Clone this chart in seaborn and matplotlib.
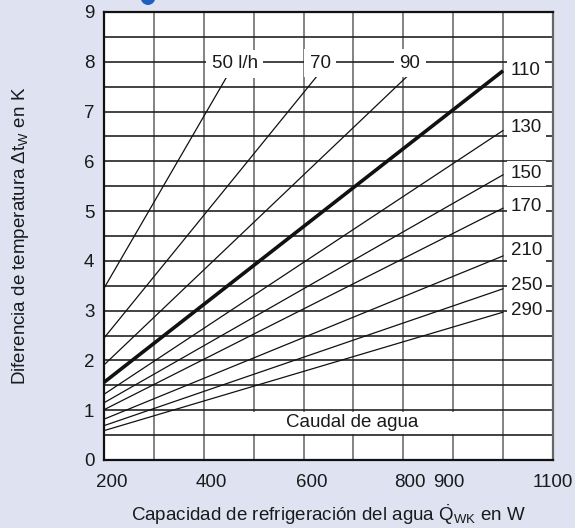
import numpy as np
import pandas as pd
import matplotlib
matplotlib.use("Agg")
import matplotlib.pyplot as plt
import matplotlib.transforms as mtrans
from matplotlib.patches import Rectangle, Ellipse
import seaborn as sns

# Water flow rates (l/h) and straight-line end points (cooling power W, delta T K)
flows = [50, 70, 90, 110, 130, 150, 170, 210, 250, 290]
q_start = [200, 200, 200, 200, 200, 200, 200, 200, 200, 200]
dt_start = [3.45, 2.45, 1.91, 1.56, 1.32, 1.15, 1.01, 0.82, 0.69, 0.59]
q_end = [445, 630, 810, 1000, 1000, 1000, 1000, 1000, 1000, 1000]
dt_end = [7.68, 7.75, 7.73, 7.82, 6.62, 5.73, 5.06, 4.10, 3.44, 2.97]

# Curve labels
top_labels = ["50 l/h", "70", "90"]
top_label_q = [462, 633, 813]
top_label_dt = [7.96, 7.97, 7.97]
side_labels = ["110", "130", "150", "170", "210", "250", "290"]
side_label_dt = [7.83, 6.67, 5.76, 5.10, 4.20, 3.51, 3.01]

x_ticks = [200, 400, 600, 800, 900, 1100]
x_minor = [300, 500, 700, 1000]
y_ticks = [0, 1, 2, 3, 4, 5, 6, 7, 8, 9]
y_minor = [0.5, 1.5, 2.5, 3.5, 4.5, 5.5, 6.5, 7.5, 8.5]

rows = []
for f, qa, ta, qb, tb in zip(flows, q_start, dt_start, q_end, dt_end):
    rows.append({"flow": f, "Q": qa, "dT": ta})
    rows.append({"flow": f, "Q": qb, "dT": tb})
df = pd.DataFrame(rows)

sns.set_theme(style="white")
plt.rcParams["font.family"] = ["Liberation Sans", "DejaVu Sans"]
plt.rcParams["mathtext.fontset"] = "custom"
plt.rcParams["mathtext.rm"] = "Liberation Sans"
plt.rcParams["mathtext.it"] = "Liberation Sans:italic"

fs = 13.5
ink = "#1a1a1a"
bg = "#dfe3f1"
fig = plt.figure(figsize=(5.75, 5.28), dpi=100, facecolor=bg)
ax = fig.add_axes([104 / 575, 1 - 460 / 528, 449 / 575, 448 / 528])
ax.set_facecolor("white")

thin = df[df["flow"] != 110]
thick = df[df["flow"] == 110]
sns.lineplot(data=thin, x="Q", y="dT", units="flow", estimator=None,
             color="#111111", lw=0.9, ax=ax, zorder=3)
sns.lineplot(data=thick, x="Q", y="dT", estimator=None,
             color="#111111", lw=2.6, ax=ax, zorder=3,
             solid_capstyle="butt")

ax.set_xlim(200, 1100)
ax.set_ylim(0, 9)
ax.set_xticks(x_ticks)
ax.set_xticks(x_minor, minor=True)
ax.set_yticks(y_ticks)
ax.set_yticks(y_minor, minor=True)
ax.grid(which="both", axis="x", color="#6e6e6e", lw=1.2, zorder=1)
ax.grid(which="both", axis="y", color="#222222", lw=1.2, zorder=1)
ax.set_axisbelow(True)
ax.tick_params(which="both", length=0)
ax.tick_params(axis="x", pad=10, labelsize=fs, colors=ink)
ax.tick_params(axis="y", pad=7, labelsize=fs, colors=ink)

# small horizontal nudges of the x tick labels (pixels)
nudges = [8, 8, 8, 7, -4, 0]
for lab, dx in zip(ax.get_xticklabels(), nudges):
    lab.set_transform(lab.get_transform() +
                      mtrans.ScaledTranslation(dx / 100, 0, fig.dpi_scale_trans))

for side in ["left", "bottom", "top"]:
    ax.spines[side].set_color("#111111")
    ax.spines[side].set_linewidth(1.6)
ax.spines["right"].set_color("#666666")
ax.spines["right"].set_linewidth(1.6)

box = dict(boxstyle="square,pad=0.3", facecolor="white", edgecolor="none")
for t, q, d in zip(top_labels, top_label_q, top_label_dt):
    ax.text(q, d, t, ha="center", va="center", fontsize=fs,
            color=ink, bbox=box, zorder=5)
side_box = dict(boxstyle="square,pad=0.2", facecolor="white", edgecolor="none")
for t, d in zip(side_labels, side_label_dt):
    ax.text(1016, d, t, ha="left", va="center", fontsize=fs,
            color=ink, bbox=side_box, zorder=5)

# white panel behind the caption, cutting the vertical grid lines only
ax.add_patch(Rectangle((492, 0.53), 420, 0.44, facecolor="white",
                       edgecolor="none", zorder=1.5))
ax.text(697, 0.75, "Caudal de agua", ha="center", va="center",
        fontsize=fs, color=ink, zorder=5)

ax.set_xlabel(r"Capacidad de refrigeración del agua $\dot{\mathrm{Q}}_\mathrm{WK}$ en W",
              fontsize=fs, color=ink)
ax.set_ylabel(r"Diferencia de temperatura $\Delta\mathrm{t}_\mathrm{W}$ en K",
              fontsize=fs, color=ink)
ax.xaxis.set_label_coords(0.5, -0.094)
ax.yaxis.set_label_coords(-0.162, 0.5)

# heading bullet peeking in at the top edge
fig.patches.append(Ellipse((148 / 575, 1 + 3 / 528), 15 / 575, 16 / 528,
                           transform=fig.transFigure, facecolor="#1f5fbf",
                           edgecolor="none", figure=fig))

fig.savefig("out.png", dpi=100, facecolor=bg)
